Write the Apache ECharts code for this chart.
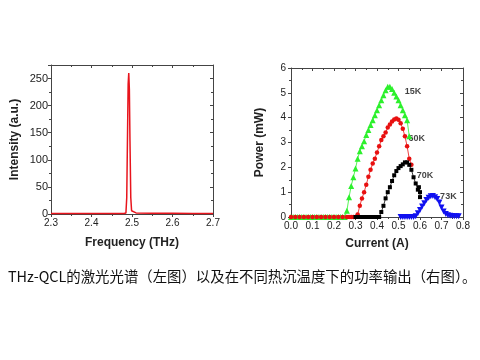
<!DOCTYPE html>
<html><head><meta charset="utf-8">
<script src="https://cdn.jsdelivr.net/npm/echarts@6/dist/echarts.min.js"></script>
<style>html,body{margin:0;padding:0;background:#fff;}#c{width:480px;height:360px;}</style>
</head><body><div id="c"></div>
<script>
// Left: laser spectrum
const specFreq = [2.30, 2.35, 2.40, 2.45, 2.48, 2.485, 2.487, 2.489, 2.4905, 2.492, 2.4935, 2.495, 2.497, 2.499, 2.502, 2.51, 2.55, 2.60, 2.65, 2.70];
const specInt  = [1, 1, 1, 1, 1, 2, 30, 150, 240, 260, 230, 135, 30, 6, 3, 2, 1.5, 1.5, 1, 1];

// Right: power vs current
const greenCurrent = [0.00,0.01,0.02,0.03,0.04,0.05,0.06,0.07,0.08,0.09,0.10,0.11,0.12,0.13,0.14,0.15,0.16,0.17,0.18,0.19,0.20,0.21,0.22,0.23,0.24,0.25,0.26,0.27,0.28,0.29,0.30,0.31,0.32,0.33,0.34,0.35,0.36,0.37,0.38,0.39,0.40,0.41,0.42,0.43,0.44,0.45,0.46,0.47,0.48,0.49,0.50,0.51,0.52,0.53,0.54,0.55];
const greenPower   = [0,0,0,0,0,0,0,0,0,0,0,0,0,0,0,0,0,0,0,0,0,0,0,0,0,0,0.25,0.8,1.25,1.6,1.95,2.35,2.65,2.85,3.05,3.3,3.5,3.7,3.9,4.1,4.3,4.5,4.7,4.9,5.1,5.25,5.25,5.15,5.0,4.85,4.7,4.5,4.3,4.1,3.9,3.25];
const redCurrent = [0.00,0.02,0.04,0.06,0.08,0.10,0.12,0.14,0.16,0.18,0.20,0.22,0.24,0.26,0.27,0.28,0.29,0.30,0.31,0.32,0.33,0.34,0.35,0.36,0.37,0.38,0.39,0.40,0.41,0.42,0.43,0.44,0.45,0.46,0.47,0.48,0.49,0.50,0.51,0.52,0.53,0.54,0.55,0.56];
const redPower   = [0,0,0,0,0,0,0,0,0,0,0,0,0,0,0,0,0,0,0.1,0.45,0.75,1.0,1.3,1.62,1.9,2.15,2.35,2.6,2.85,3.1,3.25,3.4,3.6,3.72,3.85,3.93,3.97,3.92,3.78,3.55,3.25,2.85,2.35,2.1];
const blackCurrent = [0.30,0.31,0.32,0.33,0.34,0.35,0.36,0.37,0.38,0.39,0.40,0.41,0.42,0.43,0.44,0.45,0.46,0.47,0.48,0.49,0.50,0.51,0.52,0.53,0.54,0.55,0.56,0.57,0.58,0.59,0.595,0.60,0.60];
const blackPower   = [0,0,0,0,0,0,0,0,0,0,0,0,0.2,0.45,0.75,1.0,1.2,1.45,1.68,1.85,1.97,2.05,2.12,2.2,2.2,2.1,1.9,1.6,1.35,1.1,1.2,1.0,0.8];
const blueCurrent = [0.51,0.52,0.53,0.54,0.55,0.56,0.57,0.58,0.59,0.60,0.61,0.62,0.63,0.64,0.65,0.66,0.67,0.68,0.69,0.70,0.71,0.72,0.73,0.74,0.75,0.76,0.77,0.78];
const bluePower   = [0,0,0,0,0,0,0,0.03,0.15,0.28,0.42,0.55,0.68,0.78,0.84,0.85,0.8,0.72,0.58,0.38,0.22,0.12,0.07,0.05,0.04,0.03,0.03,0.03];

const tempLabels   = ['15K', '60K', '70K', '73K'];
const labelCurrent = [0.567, 0.585, 0.623, 0.732];
const labelPower   = [5.05, 3.17, 1.69, 0.82];

const caption = 'THz-QCL的激光光谱（左图）以及在不同热沉温度下的功率输出（右图）。';

const zip = (a, b) => a.map((v, i) => [v, b[i]]);
const FONT = 'Liberation Sans, Arial, sans-serif';
const axisCol = '#444';

function mainAxis(base) {
  return Object.assign({
    type: 'value',
    axisLine: {show: true, onZero: false, lineStyle: {color: axisCol, width: 1}},
    axisTick: {show: true, inside: false, length: 3, lineStyle: {color: axisCol}},
    minorTick: {show: true, splitNumber: 2, length: 2, lineStyle: {color: axisCol}},
    splitLine: {show: false},
    axisLabel: {color: '#222', fontFamily: FONT, fontSize: 10, margin: 3},
    nameLocation: 'middle',
    nameTextStyle: {color: '#222', fontFamily: FONT, fontSize: 12, fontWeight: 'bold'}
  }, base);
}
function mirrorAxis(base) {
  return Object.assign({
    type: 'value',
    axisLine: {show: true, onZero: false, lineStyle: {color: axisCol, width: 1}},
    axisTick: {show: true, inside: true, length: 3, lineStyle: {color: axisCol}},
    minorTick: {show: true, splitNumber: 2, length: 2, lineStyle: {color: axisCol}},
    splitLine: {show: false},
    axisLabel: {show: false}
  }, base);
}

const chart = echarts.init(document.getElementById('c'), null, {renderer: 'canvas'});
chart.setOption({
  backgroundColor: '#fff',
  animation: false,
  textStyle: {fontFamily: FONT},
  grid: [
    {left: 51, right: 267, top: 65, bottom: 146},
    {left: 291, right: 17, top: 68, bottom: 143}
  ],
  xAxis: [
    mainAxis({gridIndex: 0, min: 2.3, max: 2.7, interval: 0.1, position: 'bottom',
      name: 'Frequency (THz)', nameGap: 23,
      axisLabel: {color: '#222', fontFamily: FONT, fontSize: 10, margin: 4, formatter: v => v.toFixed(1)}}),
    mirrorAxis({gridIndex: 0, min: 2.3, max: 2.7, interval: 0.1, position: 'top'}),
    mainAxis({gridIndex: 1, min: 0, max: 0.8, interval: 0.1, position: 'bottom',
      name: 'Current (A)', nameGap: 21,
      axisLabel: {color: '#222', fontFamily: FONT, fontSize: 10, margin: 4, formatter: v => v.toFixed(1)}}),
    mirrorAxis({gridIndex: 1, min: 0, max: 0.8, interval: 0.1, position: 'top'})
  ],
  yAxis: [
    mainAxis({gridIndex: 0, min: 0, max: 275, interval: 50, position: 'left',
      name: 'Intensity (a.u.)', nameGap: 30,
      axisLabel: {color: '#222', fontFamily: FONT, fontSize: 11, margin: 3, showMaxLabel: false,
        formatter: v => (v % 50 === 0 ? String(v) : '')}}),
    mirrorAxis({gridIndex: 0, min: 0, max: 275, interval: 50, position: 'right'}),
    mainAxis({gridIndex: 1, min: 0, max: 6, interval: 1, position: 'left',
      name: 'Power (mW)', nameGap: 25,
      axisLabel: {color: '#222', fontFamily: FONT, fontSize: 10, margin: 5}}),
    mirrorAxis({gridIndex: 1, min: 0, max: 6, interval: 1, position: 'right'})
  ],
  series: [
    {type: 'line', xAxisIndex: 0, yAxisIndex: 0, data: zip(specFreq, specInt), showSymbol: false,
      lineStyle: {color: '#e8141c', width: 1.5}, itemStyle: {color: '#e8141c'}},
    {type: 'line', xAxisIndex: 2, yAxisIndex: 2, data: zip(greenCurrent, greenPower), symbol: 'triangle', symbolSize: 6,
      showAllSymbol: true, itemStyle: {color: '#2cf02c'}, lineStyle: {color: '#2cf02c', width: 0.8}},
    {type: 'line', xAxisIndex: 2, yAxisIndex: 2, data: zip(redCurrent, redPower), symbol: 'circle', symbolSize: 4.5,
      showAllSymbol: true, itemStyle: {color: '#e81010'}, lineStyle: {color: '#e81010', width: 0.8}},
    {type: 'line', xAxisIndex: 2, yAxisIndex: 2, data: zip(blackCurrent, blackPower), symbol: 'rect', symbolSize: 4,
      showAllSymbol: true, itemStyle: {color: '#000'}, lineStyle: {color: '#000', width: 0.8}},
    {type: 'line', xAxisIndex: 2, yAxisIndex: 2, data: zip(blueCurrent, bluePower), symbol: 'triangle', symbolRotate: 180, symbolSize: 6,
      showAllSymbol: true, itemStyle: {color: '#1010f0'}, lineStyle: {color: '#1010f0', width: 0.8}},
    {type: 'scatter', xAxisIndex: 2, yAxisIndex: 2, symbolSize: 0, silent: true,
      data: tempLabels.map((t, i) => ({value: [labelCurrent[i], labelPower[i]], name: t})),
      label: {show: true, position: 'inside', formatter: p => p.name, color: '#111',
        fontFamily: FONT, fontSize: 9, fontWeight: 'bold'}}
  ],
  graphic: [
    {type: 'text', left: 8, top: 269,
      style: {text: caption, fill: '#111', font: '14.4px "Noto Sans CJK SC", sans-serif'}}
  ]
});
</script>
</body></html>
